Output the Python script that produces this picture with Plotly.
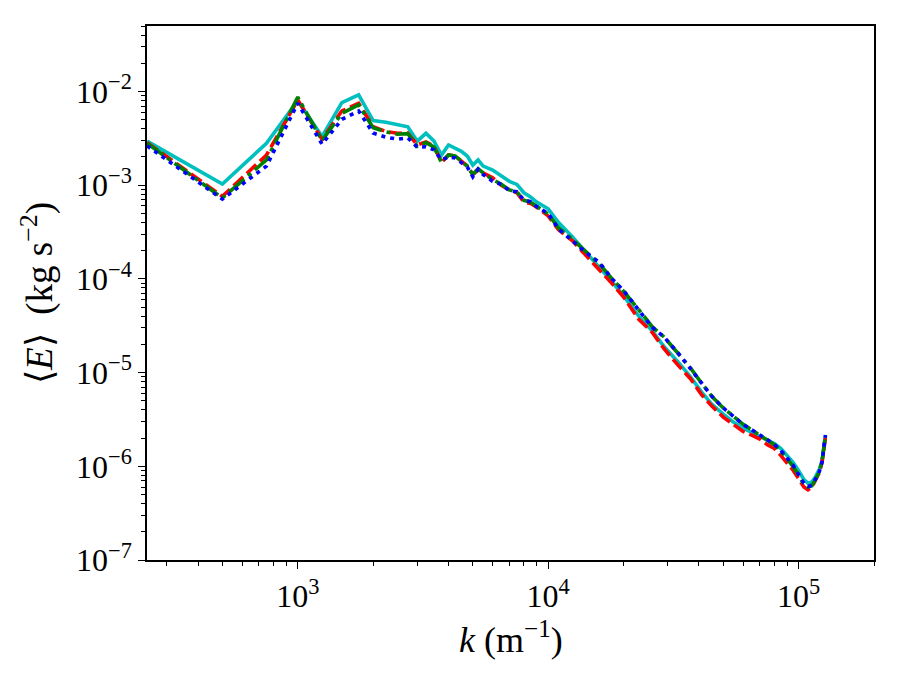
import plotly.graph_objects as go
import math

# wavenumber samples (m^-1)
k_vals = [250, 500, 750, 1000, 1250, 1500, 1750, 2000, 2250, 2500, 2750, 3000, 3250, 3500, 3750,
          4000, 4250, 4500, 4750, 5000, 5250, 5500, 6000, 6500, 7000, 7500, 8000, 8500, 9000, 10000,
          11000, 12500, 14000, 16000, 18000, 20000, 23000, 26000, 29000, 33000, 37000, 41000, 45000,
          50000, 55000, 60000, 65000, 70000, 75000, 80000, 85000, 90000, 95000, 100000, 105000,
          109000, 113000, 117000, 121000, 124000, 126000, 128000]

E_cyan = [2.95e-3, 1.03e-3, 2.8e-3, 8.0e-3, 3.3e-3, 7.6e-3, 9.2e-3, 4.9e-3, 4.7e-3, 4.4e-3, 4.2e-3,
          2.95e-3, 3.58e-3, 2.95e-3, 2.1e-3, 2.69e-3, 2.5e-3, 2.3e-3, 2.05e-3, 1.64e-3, 1.86e-3,
          1.6e-3, 1.45e-3, 1.25e-3, 1.1e-3, 1.02e-3, 8.3e-4, 7.5e-4, 6.6e-4, 5.6e-4,
          4.0e-4, 2.8e-4, 2.0e-4, 1.35e-4, 9.3e-5, 6.6e-5, 4.0e-5, 2.8e-5, 1.9e-5, 1.3e-5, 9.0e-6,
          6.2e-6, 4.6e-6, 3.6e-6, 2.95e-6, 2.55e-6, 2.3e-6, 2.1e-6, 1.9e-6, 1.75e-6, 1.55e-6,
          1.32e-6, 1.1e-6, 9.0e-7, 7.2e-7, 6.6e-7, 6.8e-7, 7.8e-7, 9.3e-7, 1.15e-6, 1.6e-6, 2.1e-6]

E_red = [2.85e-3, 7.6e-4, 2.1e-3, 8.1e-3, 3.09e-3, 6.2e-3, 7.5e-3, 4.2e-3, 3.74e-3, 3.58e-3, 3.6e-3,
         2.69e-3, 2.9e-3, 2.6e-3, 1.75e-3, 2.1e-3, 2.05e-3, 1.8e-3, 1.6e-3, 1.3e-3, 1.45e-3,
         1.35e-3, 1.2e-3, 1.0e-3, 8.9e-4, 8.3e-4, 6.6e-4, 6.4e-4, 5.8e-4, 4.7e-4,
         3.35e-4, 2.55e-4, 1.85e-4, 1.25e-4, 8.9e-5, 6.4e-5, 3.7e-5, 2.7e-5, 1.8e-5, 1.2e-5, 8.6e-6,
         5.8e-6, 4.4e-6, 3.35e-6, 2.75e-6, 2.35e-6, 2.15e-6, 1.95e-6, 1.7e-6, 1.55e-6, 1.3e-6,
         1.1e-6, 9.1e-7, 7.4e-7, 6.0e-7, 5.6e-7, 6.0e-7, 7.2e-7, 8.6e-7, 1.1e-6, 1.55e-6, 2.05e-6]

E_green = [2.8e-3, 7.3e-4, 1.86e-3, 8.7e-3, 2.99e-3, 5.85e-3, 7.2e-3, 4.1e-3, 3.7e-3, 3.5e-3, 3.55e-3,
           2.6e-3, 2.85e-3, 2.55e-3, 1.75e-3, 2.1e-3, 2.05e-3, 1.8e-3, 1.6e-3, 1.3e-3, 1.5e-3,
           1.35e-3, 1.15e-3, 1.02e-3, 8.9e-4, 8.5e-4, 6.9e-4, 6.6e-4, 5.9e-4, 4.9e-4,
           3.5e-4, 2.65e-4, 2.0e-4, 1.45e-4, 1.0e-4, 7.4e-5, 4.7e-5, 3.1e-5, 2.4e-5, 1.62e-5, 1.12e-5,
           7.7e-6, 5.6e-6, 4.2e-6, 3.4e-6, 2.8e-6, 2.45e-6, 2.15e-6, 1.9e-6, 1.7e-6, 1.45e-6,
           1.2e-6, 1.0e-6, 8.0e-7, 6.4e-7, 6.0e-7, 6.2e-7, 7.3e-7, 8.7e-7, 1.12e-6, 1.6e-6, 2.15e-6]

E_blue = [2.63e-3, 7.1e-4, 1.6e-3, 7.5e-3, 2.74e-3, 5.05e-3, 6.2e-3, 3.6e-3, 3.25e-3, 3.1e-3, 3.2e-3,
          2.54e-3, 2.57e-3, 2.38e-3, 1.86e-3, 2.0e-3, 1.95e-3, 1.74e-3, 1.57e-3, 1.23e-3, 1.48e-3,
          1.3e-3, 1.1e-3, 1.02e-3, 8.7e-4, 8.5e-4, 6.95e-4, 6.67e-4, 5.9e-4, 5.0e-4,
          3.4e-4, 2.55e-4, 1.95e-4, 1.5e-4, 1.0e-4, 7.5e-5, 4.7e-5, 3.05e-5, 2.4e-5, 1.62e-5, 1.1e-5,
          7.6e-6, 5.6e-6, 4.2e-6, 3.4e-6, 2.8e-6, 2.45e-6, 2.16e-6, 1.9e-6, 1.72e-6, 1.47e-6,
          1.23e-6, 1.03e-6, 8.2e-7, 6.6e-7, 6.1e-7, 6.3e-7, 7.4e-7, 8.8e-7, 1.1e-6, 1.65e-6, 2.16e-6]

x_tickvals = [1e3, 1e4, 1e5]
x_ticktext = ["10<sup>3</sup>", "10<sup>4</sup>", "10<sup>5</sup>"]
y_tickvals = [1e-7, 1e-6, 1e-5, 1e-4, 1e-3, 1e-2]
y_ticktext = ["10<sup>\u22127</sup>", "10<sup>\u22126</sup>", "10<sup>\u22125</sup>",
              "10<sup>\u22124</sup>", "10<sup>\u22123</sup>", "10<sup>\u22122</sup>"]

series = [
    (E_cyan, "#00BFBF", "solid"),
    (E_red, "#FF0000", "13px,5px"),
    (E_green, "#008000", "20px,5px,4px,5px"),
    (E_blue, "#0000FF", "4px,5px"),
]

fig = go.Figure()
for vals, col, dash in series:
    fig.add_trace(go.Scatter(x=k_vals, y=vals, mode="lines",
                             line=dict(color=col, width=3.6, dash=dash),
                             showlegend=False, hoverinfo="skip"))

FONT = "Liberation Serif"
axis_common = dict(
    type="log", showgrid=False, zeroline=False, showline=True, linecolor="black",
    linewidth=1.5, mirror=True, ticks="outside", ticklen=7, tickwidth=1.3, tickcolor="black",
    tickfont=dict(family=FONT, size=32, color="black"),
    minor=dict(ticks="outside", ticklen=4, tickwidth=1, tickcolor="black", dtick="D1", showgrid=False),
)

fig.update_xaxes(**axis_common, range=[math.log10(250), math.log10(2e5)],
                 tickmode="array", tickvals=x_tickvals, ticktext=x_ticktext)
fig.update_yaxes(**axis_common, range=[-7, math.log10(0.05)],
                 tickmode="array", tickvals=y_tickvals, ticktext=y_ticktext)

fig.add_annotation(text="<i>k</i> (m<sup>\u22121</sup>)", xref="paper", yref="paper",
                   x=0.5, y=-0.145, showarrow=False, xanchor="center", yanchor="middle",
                   font=dict(family=FONT, size=36, color="black"))
fig.add_annotation(text="\u27e8<i>E</i>\u27e9\u2002(kg s<sup>\u22122</sup>)", xref="paper", yref="paper",
                   x=-0.15, y=0.5, showarrow=False, xanchor="center", yanchor="middle",
                   textangle=-90, font=dict(family=FONT, size=37, color="black"))

fig.update_layout(width=900, height=675, plot_bgcolor="white", paper_bgcolor="white",
                  margin=dict(l=147, r=26, t=26, b=115, pad=0))

fig.write_html("out.html")
